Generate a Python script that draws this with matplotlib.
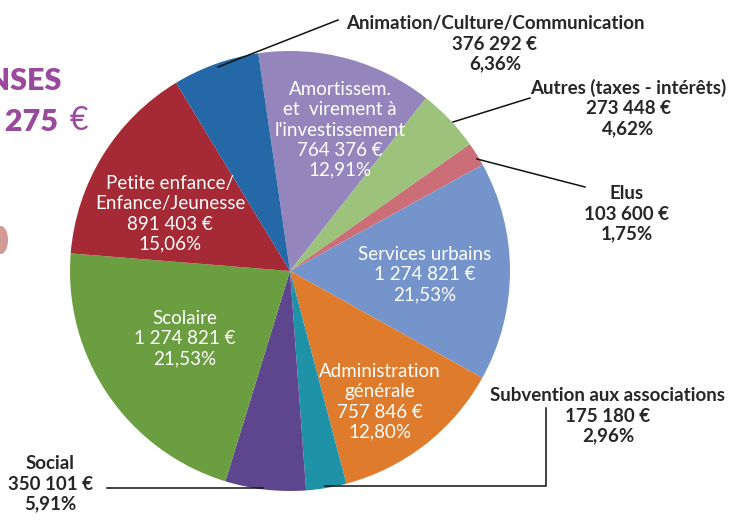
import matplotlib
matplotlib.use('Agg')
import matplotlib.pyplot as plt
from matplotlib.patches import Ellipse

W, H = 733, 520

# Slices clockwise from the top (sizes as drawn; labels as printed)
categories = ["Amortissem.\net  virement à\nl'investissement", "Autres (taxes - intérêts)", "Elus",
              "Services urbains", "Administration\ngénérale", "Subvention aux associations",
              "Social", "Scolaire", "Petite enfance/\nEnfance/Jeunesse", "Animation/Culture/Communication"]
shares = [12.91, 4.62, 1.75, 16.10, 12.80, 2.96, 5.91, 21.53, 15.06, 6.36]
amounts = ["764 376 €", "273 448 €", "103 600 €", "1 274 821 €", "757 846 €",
           "175 180 €", "350 101 €", "1 274 821 €", "891 403 €", "376 292 €"]
percents = ["12,91%", "4,62%", "1,75%", "21,53%", "12,80%", "2,96%", "5,91%", "21,53%", "15,06%", "6,36%"]
colors = ['#9486BC', '#9DC27C', '#CC6E78', '#7494CB', '#DF7B2D',
          '#1E93A8', '#5E468F', '#6B9E40', '#A52A35', '#2468A8']

plt.rcParams['font.family'] = ['Lato', 'DejaVu Sans']

fig = plt.figure(figsize=(W / 100, H / 100), dpi=100)
ax = fig.add_axes([0, 0, 1, 1])


def Y(y):
    # image pixel row -> data y
    return H - y


cx, cy, r = 290, Y(271), 220
ax.pie(shares, colors=colors, startangle=98.3, counterclock=False,
       center=(cx, cy), radius=r, frame=True,
       wedgeprops=dict(linewidth=0))
ax.set_xlim(0, W)
ax.set_ylim(0, H)
ax.set_aspect('equal')
ax.axis('off')

# labels inside the pie (white)
inside = {0: (340, 130), 3: (425, 275), 4: (380, 402), 7: (185, 339), 8: (170, 214)}
for i, (x, y) in inside.items():
    ax.text(x, Y(y), f"{categories[i]}\n{amounts[i]}\n{percents[i]}", color='white',
            fontsize=13.5, ha='center', va='center', linespacing=1.22)

# labels outside with leader lines (black)
outside = {9: (495, 44), 1: (628, 108), 2: (627, 214), 5: (608, 416), 6: (50, 484)}
for i, (x, y) in outside.items():
    ax.text(x, Y(y), f"{categories[i]}\n{amounts[i]}\n{percents[i]}", color='#262626',
            fontsize=13.5, fontweight='bold', ha='center', va='center', linespacing=1.22)

leaders = [
    ([218, 338], [67, 20]),
    ([453, 530], [122, 98]),
    ([477, 585], [159, 187]),
    ([546, 546, 325], [408, 486, 486]),
    ([107, 263], [488, 488]),
]
for xs, ys in leaders:
    ax.plot(xs, [Y(v) for v in ys], color='#111111', lw=1.1)

# cropped heading on the left
purple = '#9A4A9C'
ax.text(62, Y(81), "DÉPENSES", color=purple, fontsize=22, fontweight='heavy',
        ha='right', va='center')
ax.text(58, Y(122), "5 920 275", color=purple, fontsize=22, fontweight='heavy',
        ha='right', va='center')
ax.text(79, Y(121), "€", color=purple, fontsize=23, ha='center', va='center')

# cropped decoration on the left edge
ax.add_patch(Ellipse((1, Y(240)), 14, 28, color='#C47A72', alpha=0.75, lw=0))

fig.savefig('out.png', dpi=100)
